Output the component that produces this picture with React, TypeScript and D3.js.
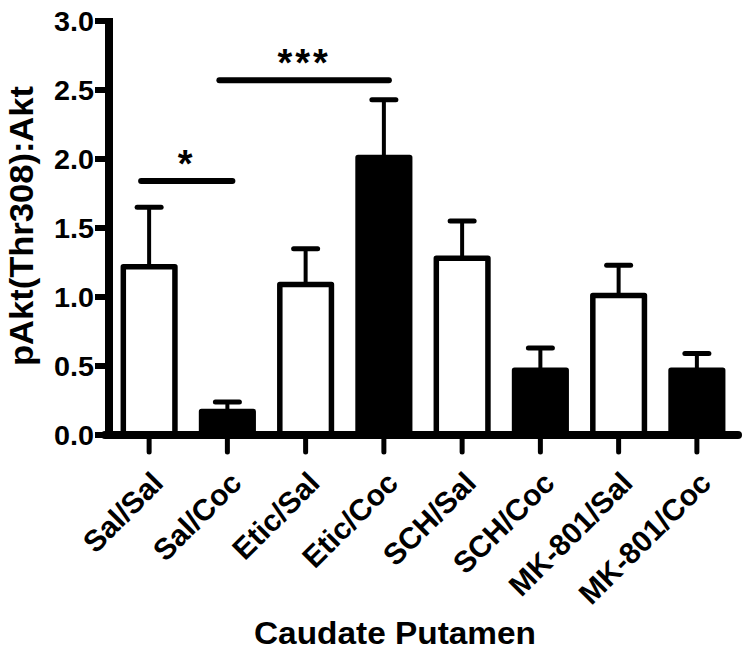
import React from 'react';
import { scaleBand, scaleLinear } from 'd3';

// groups along the x axis
const categories = ['Sal/Sal', 'Sal/Coc', 'Etic/Sal', 'Etic/Coc', 'SCH/Sal', 'SCH/Coc', 'MK-801/Sal', 'MK-801/Coc'];
const means = [1.22, 0.17, 1.09, 2.01, 1.28, 0.47, 1.01, 0.47];
const errors = [0.43, 0.07, 0.26, 0.42, 0.27, 0.16, 0.22, 0.12];
const cocaine = [false, true, false, true, false, true, false, true];
const yTicks = [0, 0.5, 1.0, 1.5, 2.0, 2.5, 3.0];

// significance brackets
const sigStart = ['Sal/Sal', 'Sal/Coc'];
const sigEnd = ['Sal/Coc', 'Etic/Coc'];
const sigLevel = [1.84, 2.57];
const sigLabel = ['*', '***'];

const W = 747;
const H = 656;
const FONT = '"Liberation Sans", Arial, sans-serif';

function App() {
  const axisX = 109;
  const baseY = 435;

  const x = scaleBand<string>()
    .domain(categories)
    .range([110, 736])
    .paddingInner(0.27)
    .paddingOuter(0.135);

  const y = scaleLinear().domain([0, 3]).range([baseY, 21]);

  const bw = x.bandwidth();
  const sw = 5.5;
  const cx = (c: string) => (x(c) as number) + bw / 2;

  return (
    <svg width={W} height={H} style={{ position: 'absolute', left: 0, top: 0, background: '#fff' }}>
      {/* error bars */}
      {categories.map((c, i) => {
        const top = y(means[i] + errors[i]);
        return (
          <g key={'e' + c} stroke="#000">
            <line x1={cx(c)} x2={cx(c)} y1={y(means[i])} y2={top} strokeWidth={4} />
            <line x1={cx(c) - 12} x2={cx(c) + 12} y1={top} y2={top} strokeWidth={5} strokeLinecap="round" />
          </g>
        );
      })}

      {/* bars */}
      {categories.map((c, i) => (
        <rect
          key={'b' + c}
          x={(x(c) as number) + sw / 2}
          y={y(means[i])}
          width={bw - sw}
          height={baseY - y(means[i])}
          fill={cocaine[i] ? '#000' : '#fff'}
          stroke="#000"
          strokeWidth={sw}
          strokeLinejoin="round"
        />
      ))}

      {/* y axis */}
      <line x1={axisX} x2={axisX} y1={baseY + 4} y2={y(3) - 3} stroke="#000" strokeWidth={8} />
      {yTicks.map(t => (
        <g key={'yt' + t}>
          <line x1={axisX - 14} x2={axisX} y1={y(t)} y2={y(t)} stroke="#000" strokeWidth={6} />
          <text
            x={axisX - 15}
            y={y(t)}
            dy="0.36em"
            textAnchor="end"
            fontFamily={FONT}
            fontWeight="bold"
            fontSize={28}
            textLength={40}
            lengthAdjust="spacingAndGlyphs"
          >
            {t.toFixed(1)}
          </text>
        </g>
      ))}

      {/* x axis */}
      <line x1={axisX - 4} x2={738} y1={baseY} y2={baseY} stroke="#000" strokeWidth={8} strokeLinecap="round" />
      {categories.map(c => (
        <g key={'xt' + c}>
          <line x1={cx(c)} x2={cx(c)} y1={baseY} y2={452} stroke="#000" strokeWidth={5} strokeLinecap="round" />
          <text
            transform={`translate(${cx(c) + 1},${470}) rotate(-45)`}
            textAnchor="end"
            dy="0.7em"
            fontFamily={FONT}
            fontWeight="bold"
            fontSize={30}
          >
            {c}
          </text>
        </g>
      ))}

      {/* significance */}
      {sigLabel.map((s, i) => {
        const x1 = cx(sigStart[i]) - 8;
        const x2 = cx(sigEnd[i]) + 5;
        const ly = y(sigLevel[i]);
        return (
          <g key={'s' + i}>
            <line x1={x1} x2={x2} y1={ly} y2={ly} stroke="#000" strokeWidth={6} strokeLinecap="round" />
            <text
              x={(x1 + x2) / 2}
              y={ly - 4}
              textAnchor="middle"
              fontFamily={FONT}
              fontWeight="bold"
              fontSize={38}
              letterSpacing={3}
            >
              {s}
            </text>
          </g>
        );
      })}

      {/* axis titles */}
      <text
        transform="translate(33,226) rotate(-90)"
        textAnchor="middle"
        fontFamily={FONT}
        fontWeight="bold"
        fontSize={33}
        textLength={280}
        lengthAdjust="spacingAndGlyphs"
      >
        pAkt(Thr308):Akt
      </text>
      <text
        x={395}
        y={644}
        textAnchor="middle"
        fontFamily={FONT}
        fontWeight="bold"
        fontSize={31}
        textLength={282}
        lengthAdjust="spacingAndGlyphs"
      >
        Caudate Putamen
      </text>
    </svg>
  );
}

export default App;
